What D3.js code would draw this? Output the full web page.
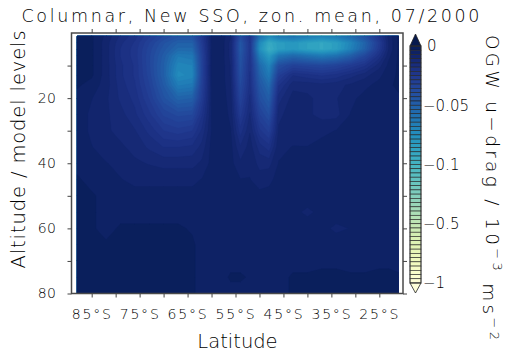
<!DOCTYPE html>
<html>
<head>
<meta charset="utf-8">
<script src="https://cdn.jsdelivr.net/npm/d3@7"></script>
<style>
  body { margin: 0; background: #fff; }
  svg text { font-family: "DejaVu Sans", sans-serif; font-weight: 300; fill: #000; }
  .axis line { stroke: #444; }
  .axis .domain { display: none; }
</style>
</head>
<body>
<div id="chart"></div>
<script>
//Grid columns (latitude, deg; negative = south)
var latitudes = [-88, -85, -82, -79, -76, -73, -70, -67, -64, -62, -60, -58, -56, -54,
                 -52, -50, -48, -46, -43, -40, -37, -34, -31, -28, -25, -23, -21];

//Grid rows (model level)
var levels = [1, 3, 5, 7, 10, 13, 16, 20, 25, 30, 35, 40, 45, 50, 55, 60, 65, 70, 75, 80];

//OGW u-drag in 10^-6 m s^-2 (i.e. -50 = -0.05 on the colorbar), one row per level
var dragRows = [
  [-2,-3,-8,-15,-20,-28,-36,-42,-42,-25,-7,-5,-10,-38,-22,-58,-72,-62,-60,-64,-68,-64,-55,-42,-22,-9,-3],
  [-2,-3,-9,-17,-22,-32,-42,-50,-50,-28,-7,-5,-12,-45,-25,-72,-92,-84,-80,-86,-90,-84,-70,-52,-28,-10,-3],
  [-2,-3,-9,-18,-23,-34,-45,-55,-55,-30,-7,-5,-12,-46,-25,-75,-95,-84,-80,-86,-90,-84,-68,-50,-26,-10,-3],
  [-2,-3,-9,-18,-23,-35,-48,-64,-62,-32,-7,-5,-12,-44,-24,-66,-82,-62,-55,-60,-64,-60,-50,-36,-20,-8,-3],
  [-2,-3,-9,-17,-22,-35,-50,-70,-68,-33,-7,-5,-11,-42,-22,-55,-70,-40,-32,-34,-36,-33,-28,-22,-12,-6,-3],
  [-2,-3,-9,-17,-22,-34,-50,-73,-70,-33,-7,-5,-11,-40,-21,-50,-64,-30,-18,-20,-22,-20,-16,-12,-8,-5,-3],
  [-3,-5,-9,-16,-21,-32,-47,-65,-63,-31,-7,-5,-10,-37,-20,-45,-56,-22,-12,-12,-13,-12,-10,-8,-6,-4,-3],
  [-5,-7,-10,-15,-19,-29,-42,-52,-50,-28,-7,-5,-9,-33,-17,-40,-49,-16,-9,-10,-12,-11,-8,-6,-5,-4,-4],
  [-5,-8,-10,-13,-17,-24,-33,-37,-36,-22,-7,-5,-8,-27,-14,-32,-40,-12,-8,-10,-12,-12,-7,-6,-5,-5,-5],
  [-5,-8,-10,-12,-14,-19,-25,-27,-25,-17,-7,-5,-7,-20,-11,-24,-30,-10,-9,-10,-8,-7,-6,-6,-5,-5,-5],
  [-5,-7,-9,-10,-12,-15,-18,-18,-17,-13,-6,-5,-6,-14,-9,-16,-20,-8,-7,-7,-6,-6,-6,-5,-5,-5,-5],
  [-5,-6,-7,-8,-10,-11,-12,-12,-12,-10,-6,-5,-6,-10,-8,-12,-12,-7,-6,-6,-6,-5,-5,-5,-5,-5,-5],
  [-3,-5,-6,-7,-8,-8,-8,-8,-8,-7,-6,-5,-6,-7,-7,-9,-8,-6,-6,-5,-5,-5,-5,-5,-5,-5,-5],
  [-2,-3,-5,-6,-6,-6,-6,-6,-6,-6,-5,-5,-5,-6,-5,-6,-6,-5,-5,-5,-5,-5,-5,-5,-5,-5,-5],
  [-2,-3,-5,-5,-5,-5,-5,-5,-5,-5,-5,-5,-5,-5,-4,-5,-5,-5,-6,-8,-6,-5,-5,-5,-5,-5,-5],
  [-2,-3,-5,-3,-3,-3,-3,-3,-4,-5,-5,-5,-5,-5,-4,-5,-5,-5,-5,-5,-6,-8,-7,-5,-5,-5,-5],
  [-2,-3,-3,-2,-2,-2,-2,-2,-3,-5,-5,-5,-5,-5,-4,-5,-5,-5,-5,-5,-5,-5,-5,-5,-5,-5,-5],
  [-2,-2,-2,-2,-2,-2,-2,-2,-3,-5,-5,-5,-5,-5,-4,-5,-5,-5,-5,-5,-5,-5,-5,-5,-5,-5,-5],
  [-2,-2,-2,-2,-2,-2,-2,-2,-3,-5,-5,-5,-3,-3,-4,-5,-5,-5,-3,-3,-2,-2,-3,-3,-2,-2,-3],
  [-2,-2,-2,-2,-2,-2,-2,-2,-3,-5,-5,-5,-5,-5,-5,-5,-5,-5,-3,-2,-2,-2,-2,-2,-2,-2,-2]
];

//Axis ticks and labels
var latTicks = [-85, -80, -75, -70, -65, -60, -55, -50, -45, -40, -35, -30, -25];
var latLabels = [-85, -75, -65, -55, -45, -35, -25];
var levelTicks = [10, 20, 30, 40, 50, 60, 70, 80];
var levelLabels = [20, 40, 60, 80];

//Colorbar (non-linear, equal spacing between these values)
var colorTicks = [0, -0.05, -0.1, -0.5, -1];
var colorTickLabels = ["0", "\u22120.05", "\u22120.1", "\u22120.5", "\u22121"];
var bandsPerStep = 14;

var width = 510,
    height = 352;

var svg = d3.select("#chart").append("svg")
    .attr("width", width)
    .attr("height", height);

//Scales
var x = d3.scaleLinear().domain([-88, -21]).range([77.3, 398.5]);
var y = d3.scaleLinear().domain([0, 80]).range([33, 293.5]);

var frame = {left: 71.5, right: 403, top: y(0), bottom: y(80)};

var colorPos = d3.scaleLinear().domain(colorTicks).range([0, 0.25, 0.5, 0.75, 1]);
function color(v) {
    return d3.interpolateYlGnBu(1 - colorPos(v));
}

//Band edges, from 0 down to -1
var edges = [];
for (var i = 0; i < colorTicks.length - 1; i++) {
    for (var k = 0; k < bandsPerStep; k++) {
        edges.push(colorTicks[i] + (colorTicks[i + 1] - colorTicks[i]) * k / bandsPerStep);
    }
}
edges.push(colorTicks[colorTicks.length - 1]);

//White plot background
svg.append("rect")
    .attr("x", frame.left)
    .attr("y", frame.top)
    .attr("width", frame.right - frame.left)
    .attr("height", frame.bottom - frame.top)
    .attr("fill", "#fff");

//Filled contours
var nx = latitudes.length,
    ny = levels.length;
var values = [];
dragRows.forEach(function (row) {
    row.forEach(function (v) { values.push(v / 1000); });
});

var lows = edges.slice(1).reverse();   // ascending thresholds
var contours = d3.contours()
    .size([nx, ny])
    .thresholds(lows)(values);

var colToLat = d3.scaleLinear().domain(d3.range(nx)).range(latitudes).clamp(true);
var rowToLev = d3.scaleLinear().domain(d3.range(ny)).range(levels).clamp(true);

var gridPath = d3.geoPath(d3.geoTransform({
    point: function (px, py) {
        this.stream.point(x(colToLat(px - 0.5)), y(rowToLev(py - 0.5)));
    }
}));

function bandTop(t) {
    var j = edges.indexOf(t);
    return edges[j - 1];
}

svg.append("g")
    .selectAll("path")
    .data(contours)
    .enter().append("path")
    .attr("d", gridPath)
    .attr("fill", function (d) { return color((d.value + bandTop(d.value)) / 2); })
    .attr("stroke", function (d) { return color((d.value + bandTop(d.value)) / 2); })
    .attr("stroke-width", 0.3);

//Frame
svg.append("rect")
    .attr("x", frame.left)
    .attr("y", frame.top)
    .attr("width", frame.right - frame.left)
    .attr("height", frame.bottom - frame.top)
    .attr("fill", "none")
    .attr("stroke", "#4a4a4a")
    .attr("stroke-width", 1.5);

//Axes
svg.append("g")
    .attr("class", "axis")
    .attr("transform", "translate(0," + frame.bottom + ")")
    .call(d3.axisBottom(x).tickValues(latTicks).tickSize(4).tickPadding(12)
        .tickFormat(function (d) { return latLabels.indexOf(d) >= 0 ? Math.abs(d) + "\u00b0S" : ""; }))
    .selectAll("text")
    .attr("font-size", 14)
    .attr("letter-spacing", 1.8);

svg.append("g")
    .attr("class", "axis")
    .attr("transform", "translate(0," + frame.top + ")")
    .call(d3.axisTop(x).tickValues(latTicks).tickSize(4).tickFormat(""));

svg.append("g")
    .attr("class", "axis")
    .attr("transform", "translate(" + frame.left + ",0)")
    .call(d3.axisLeft(y).tickValues(levelTicks).tickSize(4).tickPadding(11)
        .tickFormat(function (d) { return levelLabels.indexOf(d) >= 0 ? d : ""; }))
    .selectAll("text")
    .attr("font-size", 14)
    .attr("letter-spacing", 0.5);

svg.append("g")
    .attr("class", "axis")
    .attr("transform", "translate(" + frame.right + ",0)")
    .call(d3.axisRight(y).tickValues(levelTicks).tickSize(4).tickFormat(""));

//Colorbar
var cb = {left: 410, right: 421};
var cbY = d3.scaleLinear().domain(colorTicks).range([46, 105.25, 164.5, 223.75, 283]);

var bands = d3.range(edges.length - 1).map(function (j) {
    return {hi: edges[j], lo: edges[j + 1]};
});

svg.append("g")
    .selectAll("rect")
    .data(bands)
    .enter().append("rect")
    .attr("x", cb.left)
    .attr("y", function (d) { return cbY(d.hi); })
    .attr("width", cb.right - cb.left)
    .attr("height", function (d) { return cbY(d.lo) - cbY(d.hi); })
    .attr("fill", function (d) { return color((d.hi + d.lo) / 2); })
    .attr("stroke", "#222")
    .attr("stroke-width", 0.6);

//Extension triangles
var cbMid = (cb.left + cb.right) / 2;
svg.append("path")
    .attr("d", "M" + cb.left + "," + cbY(0) + "L" + cbMid + "," + (cbY(0) - 12) + "L" + cb.right + "," + cbY(0) + "Z")
    .attr("fill", "#071a4e")
    .attr("stroke", "#222")
    .attr("stroke-width", 0.8);
svg.append("path")
    .attr("d", "M" + cb.left + "," + cbY(-1) + "L" + cbMid + "," + (cbY(-1) + 10) + "L" + cb.right + "," + cbY(-1) + "Z")
    .attr("fill", "#ffffd9")
    .attr("stroke", "#222")
    .attr("stroke-width", 0.8);

svg.append("rect")
    .attr("x", cb.left)
    .attr("y", cbY(0))
    .attr("width", cb.right - cb.left)
    .attr("height", cbY(-1) - cbY(0))
    .attr("fill", "none")
    .attr("stroke", "#333")
    .attr("stroke-width", 0.8);

svg.append("g")
    .selectAll("text")
    .data(colorTicks)
    .enter().append("text")
    .attr("x", function (d, i) { return i === 0 ? 427 : 423; })
    .attr("y", function (d) { return cbY(d); })
    .attr("dy", "0.36em")
    .attr("font-size", 15)
    .text(function (d, i) { return colorTickLabels[i]; });

//Stretch text to the widths of the original lettering
function fitText(sel, w) {
    sel.each(function () {
        var len = this.getComputedTextLength();
        var n = this.textContent.length;
        d3.select(this).attr("letter-spacing", (w - len) / Math.max(n - 1, 1));
    });
}

//Titles
svg.append("text")
    .attr("x", 21.5)
    .attr("y", 22)
    .attr("font-size", 17.5)
    .text("Columnar, New SSO, zon. mean, 07/2000")
    .call(fitText, 458);

svg.append("text")
    .attr("x", 237.5)
    .attr("y", 348)
    .attr("text-anchor", "middle")
    .attr("font-size", 19.5)
    .text("Latitude");

svg.append("text")
    .attr("transform", "translate(25,149) rotate(-90)")
    .attr("text-anchor", "middle")
    .attr("font-size", 19.5)
    .text("Altitude / model levels")
    .call(fitText, 238);

var cbTitle = svg.append("text")
    .attr("transform", "translate(486,35) rotate(90)")
    .attr("font-size", 18.5);
cbTitle.append("tspan").text("OGW u\u2212drag / 10");
cbTitle.append("tspan").attr("dy", "-0.5em").attr("font-size", 13).text("\u22123");
cbTitle.append("tspan").attr("dy", "0.5em").text(" ms");
cbTitle.append("tspan").attr("dy", "-0.5em").attr("font-size", 13).text("\u22122");
cbTitle.call(fitText, 305);
</script>
</body>
</html>
